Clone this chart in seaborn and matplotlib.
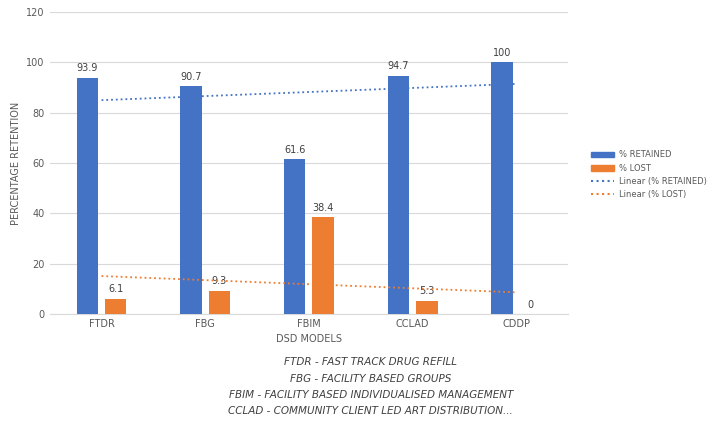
import numpy as np
import pandas as pd
import matplotlib
matplotlib.use("Agg")
import matplotlib.pyplot as plt
import seaborn as sns

categories = ["FTDR", "FBG", "FBIM", "CCLAD", "CDDP"]
retained = [93.9, 90.7, 61.6, 94.7, 100]
lost = [6.1, 9.3, 38.4, 5.3, 0]
notes = ["FTDR - FAST TRACK DRUG REFILL",
         "FBG - FACILITY BASED GROUPS",
         "FBIM - FACILITY BASED INDIVIDUALISED MANAGEMENT",
         "CCLAD - COMMUNITY CLIENT LED ART DISTRIBUTION..."]

blue, orange = "#4472C4", "#ED7D31"
df = pd.DataFrame({"cat": categories * 2,
                   "val": retained + lost,
                   "series": ["% RETAINED"] * 5 + ["% LOST"] * 5})

fig = plt.figure(figsize=(7.2, 4.26), dpi=100)
ax = fig.add_axes([0.069, 0.263, 0.72, 0.709])
sns.barplot(data=df, x="cat", y="val", hue="series", palette=[blue, orange],
            saturation=1, width=0.55, gap=0.25, ax=ax, legend=False, zorder=3)
for cont, vals in zip(ax.containers, [retained, lost]):
    ax.bar_label(cont, labels=[f"{v:g}" for v in vals], padding=3, fontsize=7, color="#404040")

x = np.arange(len(categories))
for vals, c in [(retained, blue), (lost, orange)]:
    p = np.polyfit(x, vals, 1)
    ax.plot(x, np.polyval(p, x), ls=":", color=c, lw=1.3, zorder=4)

ax.set_ylim(0, 120)
ax.set_yticks(range(0, 121, 20))
ax.set_xlim(-0.5, 4.5)
ax.grid(axis="y", color="#d9d9d9", lw=0.8, zorder=0)
for s in ["top", "right", "left"]:
    ax.spines[s].set_visible(False)
ax.spines["bottom"].set_color("#d9d9d9")
ax.tick_params(length=0, labelsize=7, colors="#595959")
ax.set_xlabel("DSD MODELS", fontsize=7, color="#595959")
ax.set_ylabel("PERCENTAGE RETENTION", fontsize=7, color="#595959")

from matplotlib.patches import Patch
from matplotlib.lines import Line2D
handles = [Patch(color=blue, label="% RETAINED"), Patch(color=orange, label="% LOST"),
           Line2D([], [], ls=":", color=blue, label="Linear (% RETAINED)"),
           Line2D([], [], ls=":", color=orange, label="Linear (% LOST)")]
fig.legend(handles=handles, loc="center left", bbox_to_anchor=(0.815, 0.59),
           frameon=False, fontsize=6, labelcolor="#595959", handlelength=2.8,
           borderpad=0, handletextpad=0.6)

for i, t in enumerate(notes):
    fig.text(0.515, 1 - (362 + i * 16.5) / 426, t, ha="center", va="center",
             fontsize=7.5, style="italic", color="#404040")

fig.savefig("out.png", dpi=100)
